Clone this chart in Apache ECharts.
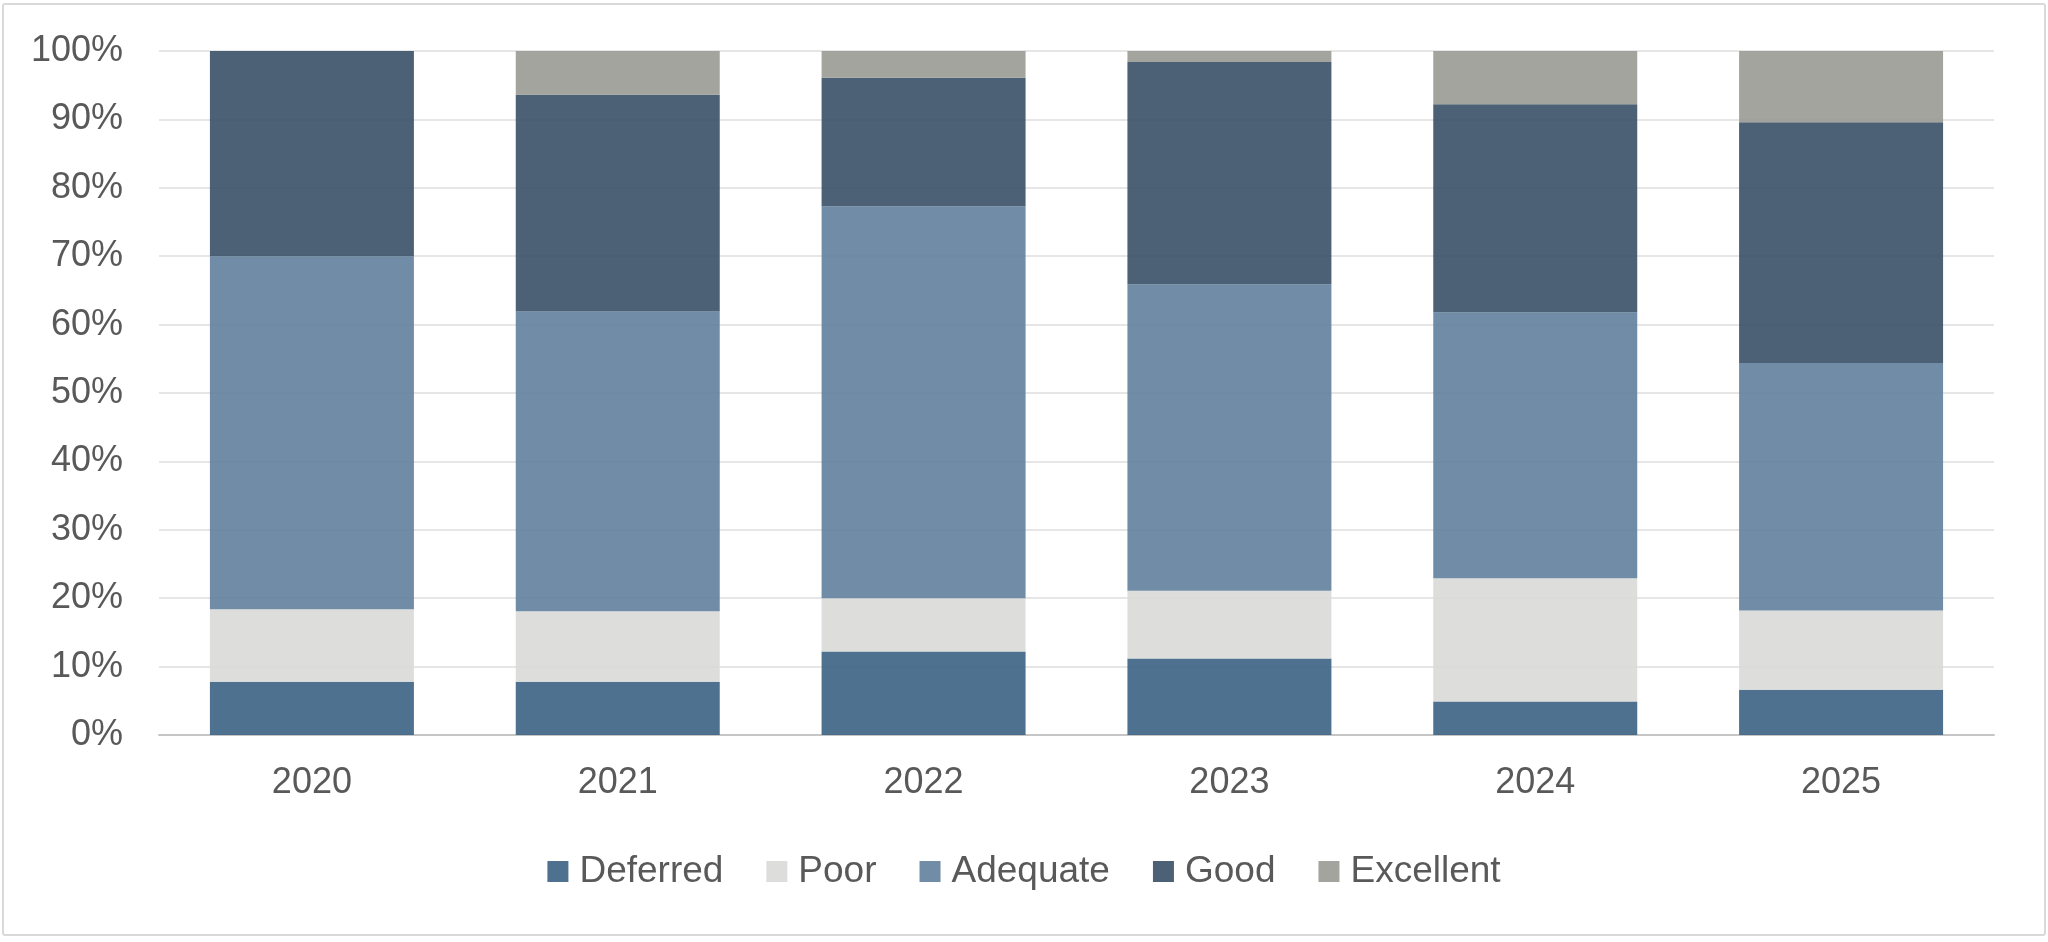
<!DOCTYPE html>
<html>
<head>
<meta charset="utf-8">
<script src="https://cdn.jsdelivr.net/npm/echarts@6/dist/echarts.min.js"></script>
<style>
html,body{margin:0;padding:0;background:#fff;}
#chart{position:absolute;left:0;top:0;width:2048px;height:942px;}
#frame{position:absolute;left:2px;top:3px;width:2040px;height:929px;border:2px solid #d9d9d9;border-radius:3px;pointer-events:none;}
</style>
</head>
<body>
<div id="chart"></div>
<div id="frame"></div>
<script>
var categories = ['2020', '2021', '2022', '2023', '2024', '2025'];
var deferred  = [7.8, 7.8, 12.2, 11.2, 4.9, 6.6];
var poor      = [10.6, 10.3, 7.8, 9.9, 18.0, 11.6];
var adequate  = [51.6, 43.8, 57.3, 44.8, 38.9, 36.2];
var good      = [30.0, 31.7, 18.8, 32.5, 30.4, 35.2];
var excellent = [0.0, 6.4, 3.9, 1.6, 7.8, 10.4];
var seriesNames = ['Deferred', 'Poor', 'Adequate', 'Good', 'Excellent'];
var yTicks = [0, 10, 20, 30, 40, 50, 60, 70, 80, 90, 100];

var colors = ['#3a6283', '#d9d9d7', '#617f9c', '#384f67', '#9a9a94'];
var dataSets = [deferred, poor, adequate, good, excellent];
var FONT = '"Liberation Sans", Arial, Helvetica, sans-serif';

var chart = echarts.init(document.getElementById('chart'));
chart.setOption({
  animation: false,
  color: colors,
  grid: {left: 159, right: 54, top: 51, bottom: 207, containLabel: false},
  legend: {
    data: seriesNames,
    left: 'center',
    top: 848,
    itemWidth: 21,
    itemHeight: 21,
    itemGap: 43,
    icon: 'rect',
    textStyle: {color: '#595959', fontSize: 37, fontFamily: FONT, padding: [0, 0, 0, 6]}
  },
  xAxis: {
    type: 'category',
    data: categories,
    axisTick: {show: false},
    axisLine: {show: true, lineStyle: {color: '#c6c6c6', width: 2}},
    axisLabel: {color: '#595959', fontSize: 36, fontFamily: FONT, margin: 30}
  },
  yAxis: {
    type: 'value',
    min: yTicks[0],
    max: yTicks[yTicks.length - 1],
    interval: 10,
    axisLine: {show: false},
    axisTick: {show: false},
    splitLine: {lineStyle: {color: '#e6e6e6', width: 2}},
    axisLabel: {color: '#595959', fontSize: 36, fontFamily: FONT, margin: 36,
      formatter: function (v) { return v + '%'; }}
  },
  series: seriesNames.map(function (name, i) {
    return {
      name: name,
      type: 'bar',
      stack: 'total',
      data: dataSets[i],
      barCategoryGap: '33.3%',
      itemStyle: {color: colors[i], opacity: 0.9}
    };
  })
});
</script>
</body>
</html>
